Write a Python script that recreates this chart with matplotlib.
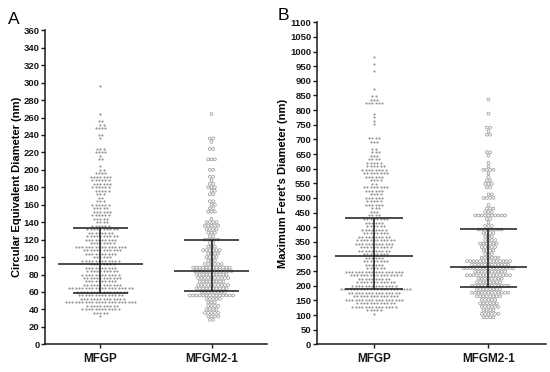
import matplotlib
matplotlib.use('Agg')
import matplotlib.pyplot as plt
import numpy as np

plt.rcParams['font.family'] = ['Liberation Sans', 'DejaVu Sans']

FIGSIZE = (5.5, 3.72)
DOT_GRAY = '#959595'
LINE = '#1a1a1a'

categories = ['MFGP', 'MFGM2-1']

# Panel A: circular equivalent diameter (nm), rows of the dot plot and dots per row
cd_mfgp_rows = list(range(32, 300, 4))
cd_mfgp_counts = [1, 5, 12, 10, 22, 14, 14, 16, 20, 12,
                  10, 12, 12, 10, 10, 8, 12, 6, 10, 12,
                  16, 8, 10, 10, 8, 10, 6, 4, 5, 6,
                  6, 5, 6, 3, 2, 3, 5, 6, 6, 6,
                  7, 4, 2, 1, 0, 2, 1, 4, 3, 0,
                  0, 1, 2, 0, 4, 2, 2, 0, 1, 0,
                  0, 0, 0, 0, 0, 0, 1]
cd_mfgm_rows = list(range(28, 268, 4))
cd_mfgm_counts = [2, 4, 5, 4, 4, 3, 5, 14, 8, 10,
                  10, 8, 10, 10, 12, 12, 6, 3, 4, 4,
                  6, 3, 2, 5, 2, 3, 4, 5, 4, 1,
                  0, 3, 2, 2, 2, 0, 2, 2, 3, 2,
                  1, 2, 0, 2, 0, 0, 3, 0, 0, 2,
                  0, 1, 2, 0, 0, 0, 0, 0, 0, 1]
cd_center = [91.6, 83.5]
cd_lower = [59, 61]
cd_upper = [133.5, 120]

# Panel B: maximum Feret's diameter (nm)
fd_mfgp_rows = list(range(104, 1016, 12))
fd_mfgp_counts = [1, 5, 14, 12, 18, 14, 16, 22, 14, 12,
                  10, 16, 18, 6, 6, 8, 6, 8, 10, 10,
                  12, 12, 10, 8, 8, 6, 6, 8, 4, 3,
                  3, 6, 5, 6, 4, 6, 8, 2, 4, 6,
                  8, 8, 6, 5, 4, 3, 3, 2, 0, 3,
                  4, 0, 0, 0, 1, 1, 1, 1, 0, 0,
                  6, 3, 2, 0, 1, 0, 0, 0, 0, 1,
                  0, 1, 0, 1, 0, 0, 1]
fd_mfgm_rows = list(range(92, 848, 12))
fd_mfgm_counts = [4, 6, 4, 6, 6, 5, 8, 12, 8, 12,
                  8, 8, 14, 10, 16, 12, 14, 6, 3, 4,
                  5, 6, 4, 3, 4, 8, 3, 1, 2, 10,
                  3, 3, 1, 0, 4, 2, 0, 2, 3, 2,
                  1, 1, 4, 1, 1, 0, 1, 2, 0, 0,
                  0, 0, 2, 1, 2, 0, 0, 0, 1, 0,
                  0, 0, 1]
fd_center = [301.5, 263]
fd_lower = [188, 196]
fd_upper = [430, 395]


def swarm(rows, counts, pos, dx):
    """Lay the dots of each row side by side, staggering neighbouring rows."""
    xs, ys = [], []
    prev_n, prev_shift = -1, 0.0
    for val, n in zip(rows, counts):
        shift = 0.0
        if n > 1 and prev_n > 1 and n % 2 == prev_n % 2 and prev_shift == 0.0:
            shift = dx / 2
        offs = (np.arange(n) - (n - 1) / 2) * dx + shift
        xs.extend(pos + offs)
        ys.extend([val] * n)
        prev_n, prev_shift = n, shift
    return np.array(xs), np.array(ys)


def draw_panel(ax, groups, center, lower, upper, ylim, yticks, ylabel, dx, mean_w):
    for i, (rows, counts, filled) in enumerate(groups):
        x, y = swarm(rows, counts, i, dx)
        if filled:
            ax.scatter(x, y, s=2.4, color=DOT_GRAY, linewidths=0, zorder=2)
        else:
            ax.scatter(x, y, s=4.2, facecolors='none', edgecolors=DOT_GRAY,
                       linewidths=0.5, zorder=2)
        ax.hlines(center[i], i - mean_w[i], i + mean_w[i], color=LINE, lw=1.1, zorder=3)
        ax.hlines([lower[i], upper[i]], i - 0.25, i + 0.25, color=LINE, lw=1.1, zorder=3)
        ax.vlines(i, lower[i], upper[i], color=LINE, lw=1.1, zorder=3)

    ax.set_xlim(-0.5, 1.5)
    ax.set_ylim(*ylim)
    ax.set_yticks(yticks)
    ax.set_xticks([0, 1])
    ax.set_xticklabels(categories, fontsize=8.5, fontweight='bold')
    ax.set_ylabel(ylabel, fontsize=8, fontweight='bold', labelpad=1)
    for lab in ax.get_yticklabels():
        lab.set_fontsize(6.8)
        lab.set_fontweight('bold')
    ax.spines['top'].set_visible(False)
    ax.spines['right'].set_visible(False)
    for sp in ('left', 'bottom'):
        ax.spines[sp].set_linewidth(1.1)
        ax.spines[sp].set_color(LINE)
    ax.tick_params(axis='y', length=3, width=1.0, pad=1, colors=LINE)
    ax.tick_params(axis='x', length=3, width=1.0, pad=3, colors=LINE)


fig = plt.figure(figsize=FIGSIZE, dpi=100)
ax_a = fig.add_axes([0.0818, 0.0745, 0.4037, 0.8440])
ax_b = fig.add_axes([0.5758, 0.0745, 0.4164, 0.8656])

draw_panel(ax_a,
           [(cd_mfgp_rows, cd_mfgp_counts, True), (cd_mfgm_rows, cd_mfgm_counts, False)],
           cd_center, cd_lower, cd_upper, (0, 360), np.arange(0, 361, 20),
           'Circular Equivalent Diameter (nm)', 0.030, [0.38, 0.34])
draw_panel(ax_b,
           [(fd_mfgp_rows, fd_mfgp_counts, True), (fd_mfgm_rows, fd_mfgm_counts, False)],
           fd_center, fd_lower, fd_upper, (0, 1100), np.arange(0, 1101, 50),
           "Maximum Feret's Diameter (nm)", 0.029, [0.34, 0.34])

fig.text(0.014, 0.936, 'A', fontsize=12.5)
fig.text(0.505, 0.945, 'B', fontsize=12.5)

fig.savefig('out.png', dpi=100)
